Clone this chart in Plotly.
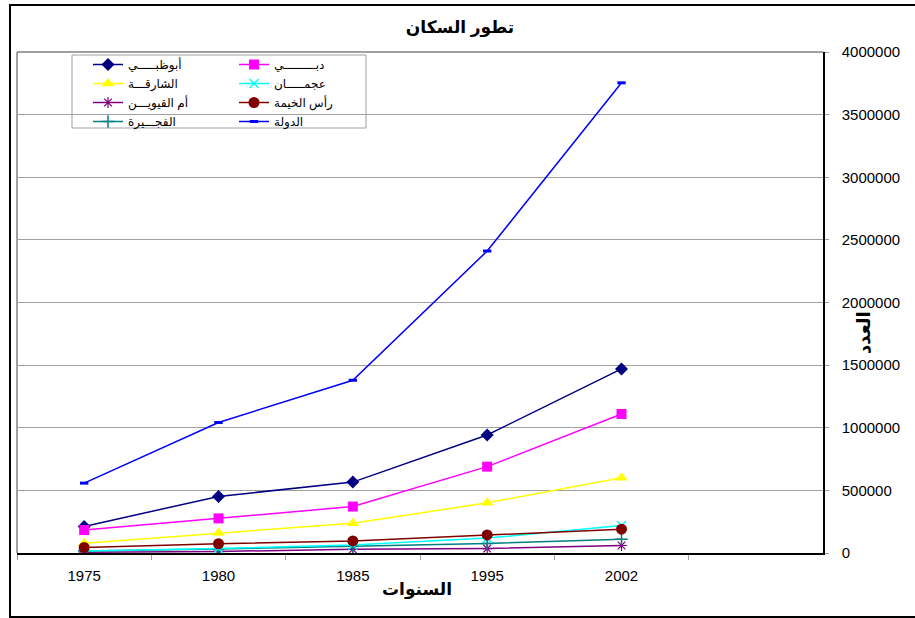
import plotly.graph_objects as go

years = ["1975", "1980", "1985", "1995", "2002"]

abu_dhabi = [211812, 451848, 566036, 942463, 1470000]
dubai = [183187, 276301, 370788, 689420, 1110000]
sharjah = [78790, 159317, 237000, 400339, 600000]
ajman = [16690, 36100, 64318, 118812, 220000]
umm_al_quwain = [6908, 12426, 29229, 35157, 60000]
ras_al_khaimah = [43845, 73918, 96578, 144430, 190000]
fujairah = [16655, 32189, 54425, 76254, 110000]
total = [557887, 1042099, 1379303, 2411041, 3754000]

names = {
    "ad": "أبوظبـــــي",
    "db": "دبـــــــــي",
    "sh": "الشارقـــة",
    "aj": "عجمـــــان",
    "uq": "أم القيويـــن",
    "rk": "رأس الخيمة",
    "fj": "الفجـــيرة",
    "tt": "الدولة",
}

title_text = "تطور السكان"
x_title = "السنوات"
y_title = "العدد"

FONT = "Arial, Liberation Sans, DejaVu Sans, sans-serif"

fig = go.Figure()

def add(y, name, color, symbol, size, legend, mline=None):
    marker = dict(symbol=symbol, size=size, color=color)
    if mline is not None:
        marker["line"] = dict(color=color, width=mline)
    fig.add_trace(go.Scatter(
        x=years, y=y, name=name, mode="lines+markers",
        line=dict(color=color, width=1.5), marker=marker, legend=legend,
    ))

add(abu_dhabi, names["ad"], "#000080", "diamond", 10, "legend")
add(sharjah, names["sh"], "#FFFF00", "triangle-up", 11, "legend")
add(umm_al_quwain, names["uq"], "#800080", "asterisk-open", 9, "legend", 1.2)
add(fujairah, names["fj"], "#008080", "cross-thin-open", 9, "legend", 1.5)
add(dubai, names["db"], "#FF00FF", "square", 10, "legend2")
add(ajman, names["aj"], "#00FFFF", "x-thin-open", 9, "legend2", 1.5)
add(ras_al_khaimah, names["rk"], "#800000", "circle", 11, "legend2")
add(total, names["tt"], "#0000FF", "line-ew-open", 6, "legend2", 3)

L, R, T, B = 17, 823, 52, 553
W, H = 915, 618
pw, ph = R - L, B - T

def px(x):
    return (x - L) / pw

def py(y):
    return (B - y) / ph

leg_common = dict(
    bgcolor="rgba(0,0,0,0)", borderwidth=0, tracegroupgap=0, itemwidth=30,
    font=dict(family=FONT, size=12, color="black"),
    xanchor="left", yanchor="top",
)

fig.update_layout(
    width=W, height=H,
    margin=dict(l=L, r=W - R, t=T, b=H - B),
    paper_bgcolor="white", plot_bgcolor="white",
    font=dict(family=FONT, size=15, color="black"),
    showlegend=True,
    legend=dict(x=px(88), y=py(50), **leg_common),
    legend2=dict(x=px(234), y=py(50), **leg_common),
    xaxis=dict(
        type="category", range=[-0.5, 5.5],
        showgrid=False, showline=True, linecolor="black", linewidth=1.5,
        ticks="outside", tickson="boundaries", ticklen=5, tickcolor="#A0A0A0",
        tickfont=dict(size=15), zeroline=False, ticklabelstandoff=8,
    ),
    yaxis=dict(
        side="right", range=[0, 4000000], dtick=500000, tickformat="d",
        showgrid=True, gridcolor="#A0A0A0", gridwidth=1,
        showline=True, linecolor="black", linewidth=1.5,
        ticks="outside", ticklen=4, tickcolor="#A0A0A0",
        ticklabelstandoff=10, tickfont=dict(size=15), zeroline=False,
    ),
    title=dict(
        text="<b>" + title_text + "</b>", x=460 / W, xref="container", xanchor="center",
        y=1 - 27 / H, yref="container", yanchor="middle",
        font=dict(family=FONT, size=17, color="black"),
    ),
    shapes=[
        dict(type="line", xref="paper", yref="paper", x0=0, x1=0, y0=0, y1=1,
             line=dict(color="#808080", width=1.5), layer="below"),
        dict(type="line", xref="paper", yref="paper", x0=0, x1=1, y0=1, y1=1,
             line=dict(color="#808080", width=1.5), layer="below"),
        dict(type="rect", xref="paper", yref="paper",
             x0=px(72), x1=px(366), y0=py(128), y1=py(55),
             line=dict(color="#A0A0A0", width=1), fillcolor="white", layer="below"),
        dict(type="rect", xref="paper", yref="paper",
             x0=px(10), x1=px(918), y0=py(617), y1=py(5),
             line=dict(color="black", width=2)),
    ],
    annotations=[
        dict(text="<b>" + x_title + "</b>", xref="paper", yref="paper",
             x=px(417), y=py(590), xanchor="center", yanchor="middle", showarrow=False,
             font=dict(family=FONT, size=17, color="black")),
        dict(text="<b>" + y_title + "</b>", xref="paper", yref="paper",
             x=px(864), y=py(333), xanchor="center", yanchor="middle",
             showarrow=False, textangle=-90,
             font=dict(family=FONT, size=18, color="black")),
    ],
)

fig.write_html("out.html", config={"displayModeBar": False},
               post_script="document.body.style.margin='0';document.body.style.overflow='hidden';")
